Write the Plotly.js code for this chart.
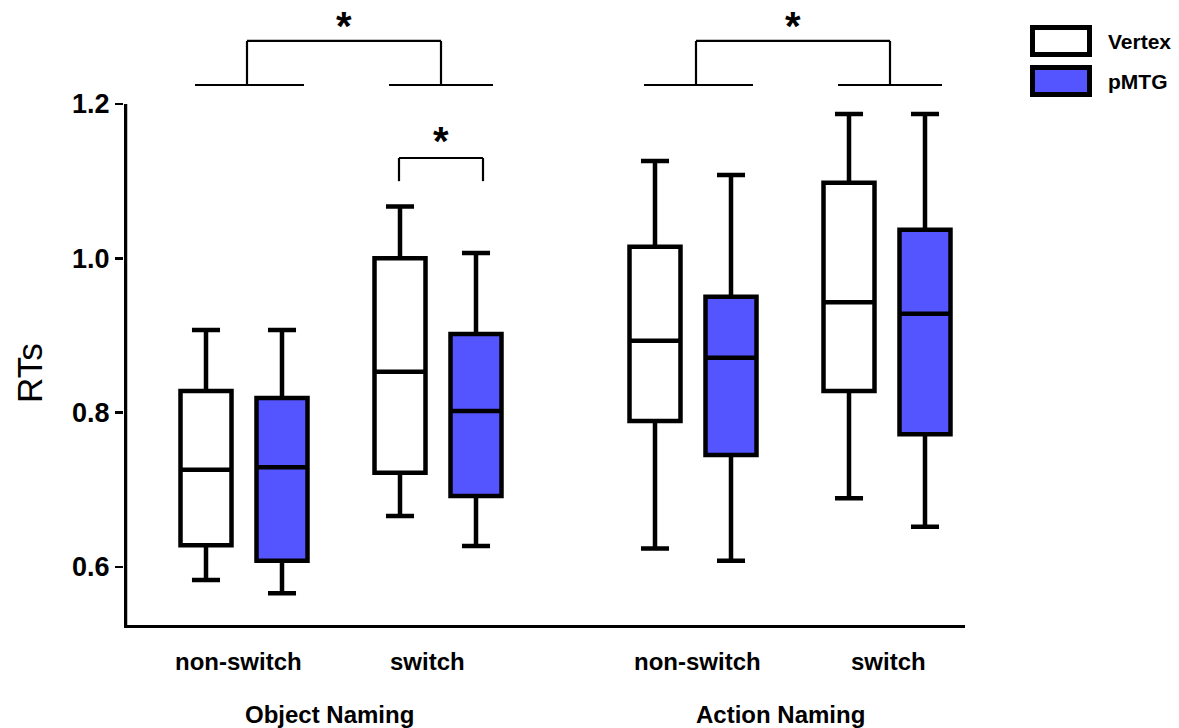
<!DOCTYPE html>
<html>
<head>
<meta charset="utf-8">
<script src="https://cdn.plot.ly/plotly-3.0.1.min.js"></script>
<style>html,body{margin:0;padding:0;background:#fff;}#chart{width:1179px;height:728px;}</style>
</head>
<body>
<div id="chart"></div>
<script>
// ---- data ----
const tasks = ["Object Naming", "Action Naming"];
const conditions = ["non-switch", "switch"];
const treatments = ["Vertex", "pMTG"];
const yTitle = "RTs";

// order: Object non-switch, Object switch, Action non-switch, Action switch
const vertexLower  = [0.583, 0.666, 0.624, 0.689];
const vertexQ1     = [0.628, 0.722, 0.789, 0.828];
const vertexMedian = [0.726, 0.853, 0.893, 0.943];
const vertexQ3     = [0.828, 1.000, 1.015, 1.098];
const vertexUpper  = [0.907, 1.067, 1.126, 1.187];

const pmtgLower  = [0.566, 0.627, 0.608, 0.652];
const pmtgQ1     = [0.608, 0.692, 0.745, 0.772];
const pmtgMedian = [0.729, 0.802, 0.871, 0.928];
const pmtgQ3     = [0.819, 0.902, 0.950, 1.037];
const pmtgUpper  = [0.907, 1.007, 1.108, 1.187];

const yTicks = [0.6, 0.8, 1.0, 1.2];

// ---- layout helpers ----
const FONT = "Liberation Sans, Arial, sans-serif";
const BLUE = "#5555ff";
const W = 1179, H = 728, ML = 124, MR = 214, MT = 10, MB = 103;
const plotW = W - ML - MR, plotH = H - MT - MB;
const px2paperX = p => (p - ML) / plotW;
const px2paperY = p => (H - MB - p) / plotH;
// x axis in pixel-like units
function pos(g, c, t) { return 206 + g * 449 + c * 194 + t * 76; }
const vertexX = [], pmtgX = [];
tasks.forEach((tk, g) => conditions.forEach((cd, c) => { vertexX.push(pos(g, c, 0)); pmtgX.push(pos(g, c, 1)); }));

const yMin = 0.5247, yMax = 1.3218;

function boxTrace(name, x, lo, q1, med, q3, up, fill) {
  return {
    type: "box", name: name, x: x, q1: q1, median: med, q3: q3,
    lowerfence: lo, upperfence: up, width: 51, whiskerwidth: 0.55,
    fillcolor: fill, line: { color: "#000", width: 4.5 },
    boxpoints: false, hoverinfo: "skip", showlegend: false
  };
}

const traces = [
  boxTrace("Vertex", vertexX, vertexLower, vertexQ1, vertexMedian, vertexQ3, vertexUpper, "#ffffff"),
  boxTrace("pMTG", pmtgX, pmtgLower, pmtgQ1, pmtgMedian, pmtgQ3, pmtgUpper, BLUE)
];

const shapes = [];
const annotations = [];
function seg(x0, y0, x1, y1, w) {
  shapes.push({ type: "line", xref: "x", yref: "y", x0: x0, y0: y0, x1: x1, y1: y1,
    line: { color: "#000", width: w || 2.2 } });
}
// y-axis line (from bottom to 1.2 only)
shapes.push({ type: "line", xref: "x", yref: "y", x0: 125.5, x1: 125.5, y0: yMin, y1: 1.2,
  line: { color: "#000", width: 3.5 } });

// significance brackets between conditions (per task)
const baseY = 1.2246, topY = 1.2817, starY = 1.301;
tasks.forEach((tk, g) => {
  const m0 = (pos(g, 0, 0) + pos(g, 0, 1)) / 2;
  const m1 = (pos(g, 1, 0) + pos(g, 1, 1)) / 2;
  seg(m0 - 49, baseY, m0 + 60, baseY);
  seg(m1 - 49, baseY, m1 + 55, baseY);
  seg(m0 + 3, baseY, m0 + 3, topY);
  seg(m1 + 3, baseY, m1 + 3, topY);
  seg(m0 + 3, topY, m1 + 3, topY);
  annotations.push({ xref: "x", yref: "y", x: (m0 + m1) / 2 + 3, y: starY, text: "<b>*</b>",
    showarrow: false, font: { family: FONT, size: 40, color: "#000" }, yanchor: "middle" });
});
// within-switch bracket (Object naming)
{
  const a = pos(0, 1, 0) - 1, b = pos(0, 1, 1) + 7;
  seg(a, 1.100, a, 1.130);
  seg(b, 1.100, b, 1.130);
  seg(a, 1.130, b, 1.130);
  annotations.push({ xref: "x", yref: "y", x: (a + b) / 2, y: 1.152, text: "<b>*</b>",
    showarrow: false, font: { family: FONT, size: 40, color: "#000" }, yanchor: "middle" });
}

// y title
annotations.push({ xref: "paper", yref: "paper", x: px2paperX(29), y: px2paperY(373),
  text: yTitle, textangle: -90, showarrow: false, xanchor: "center", yanchor: "middle",
  font: { family: FONT, size: 35, color: "#000" } });

// category & task labels
const condLabelX = [238, 427, 697, 888];
let k = 0;
tasks.forEach((tk, g) => {
  conditions.forEach((cd, c) => {
    annotations.push({ xref: "x", yref: "paper", x: condLabelX[k++], y: px2paperY(661),
      text: "<b>" + cd + "</b>", showarrow: false, yanchor: "middle",
      font: { family: FONT, size: 24, color: "#000" } });
  });
});
const taskLabelX = [329, 780];
tasks.forEach((tk, g) => {
  annotations.push({ xref: "x", yref: "paper", x: taskLabelX[g], y: px2paperY(714),
    text: "<b>" + tk + "</b>", showarrow: false, yanchor: "middle",
    font: { family: FONT, size: 24, color: "#000" } });
});

// manual legend
const legendFills = ["#ffffff", BLUE];
const legendRows = [[27.5, 54.5, 42], [67.5, 94.5, 81]];
treatments.forEach((tr, i) => {
  const r = legendRows[i];
  shapes.push({ type: "rect", xref: "paper", yref: "paper",
    x0: px2paperX(1032.5), x1: px2paperX(1089.5), y0: px2paperY(r[1]), y1: px2paperY(r[0]),
    fillcolor: legendFills[i], line: { color: "#000", width: 5 } });
  annotations.push({ xref: "paper", yref: "paper", x: px2paperX(1106), y: px2paperY(r[2]),
    xanchor: "left", yanchor: "middle", showarrow: false, text: "<b>" + tr + "</b>",
    font: { family: FONT, size: 21, color: "#000" } });
});

const layout = {
  width: W, height: H,
  margin: { l: ML, r: MR, t: MT, b: MB },
  paper_bgcolor: "#fff", plot_bgcolor: "#fff",
  showlegend: false, boxmode: "overlay",
  xaxis: { range: [124, 965], showgrid: false, zeroline: false, showticklabels: false,
    ticks: "", showline: true, linecolor: "#000", linewidth: 3, fixedrange: true },
  yaxis: { range: [yMin, yMax], showgrid: false, zeroline: false, showline: false,
    tickvals: yTicks, ticktext: yTicks.map(v => "<b>" + v.toFixed(1) + "</b>"),
    ticks: "outside", ticklen: 8, tickwidth: 2.5, tickcolor: "#000",
    tickfont: { family: FONT, size: 27, color: "#000" },
    fixedrange: true },
  shapes: shapes, annotations: annotations
};

Plotly.newPlot("chart", traces, layout, { staticPlot: true, displayModeBar: false });
</script>
</body>
</html>
